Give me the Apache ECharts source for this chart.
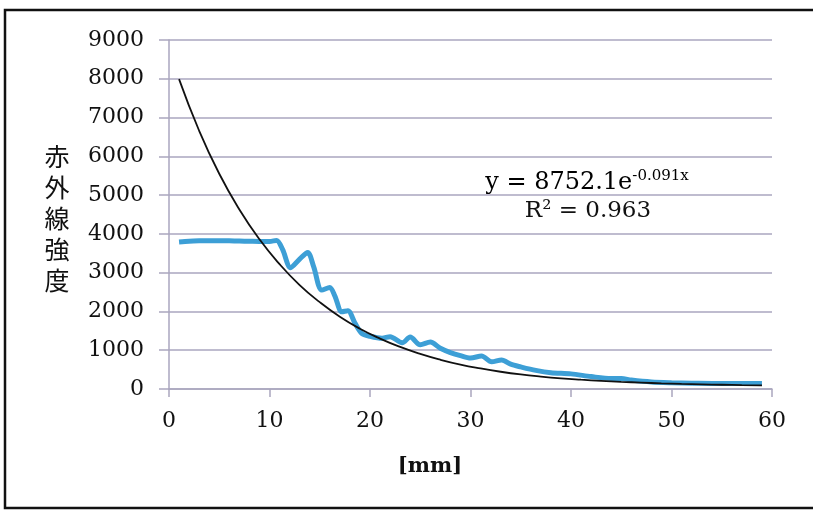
<!DOCTYPE html>
<html><head><meta charset="utf-8">
<script src="https://cdn.jsdelivr.net/npm/echarts@6/dist/echarts.min.js"></script>
<style>html,body{margin:0;padding:0;background:#fff}#c{width:813px;height:511px}</style>
</head><body><div id="c"></div>
<script>
// measured series (position in mm, infrared intensity)
var measX = [1,2,3,4,5,6,7,8,9,10,10.7,11.3,12.1,13,13.8,14.4,15.2,16,16.5,17.2,17.8,18.5,19.2,20,21.2,22,23.2,24,25,26,27,28,29,30,31.1,32.1,33.1,34,35,36.5,38,40,42,44,45,46,48,50,52,55,57,59];
var measY = [3790,3810,3820,3825,3825,3820,3815,3810,3805,3805,3830,3600,3130,3350,3520,3150,2550,2620,2400,1990,2020,1700,1430,1360,1310,1350,1190,1340,1140,1210,1050,940,860,800,850,700,750,640,570,480,420,390,320,270,270,230,180,160,150,140,140,140];
// exponential trendline as drawn
var trendX = [1,3,5,7,9,11,13,15,17,19,21,23,25,27,29,31,33,35,37,39,41,43,45,47,49,51,53,55,57,59];
var trendY = [7990,6660,5550,4630,3860,3220,2680,2240,1865,1555,1300,1085,905,755,630,530,445,375,320,275,240,210,185,165,145,130,120,110,100,95];
var yTicks = [0,1000,2000,3000,4000,5000,6000,7000,8000,9000];
var xTicks = [0,10,20,30,40,50,60];
var yTitle = "赤外線強度";
var xTitle = "[mm]";

function pairs(xs, ys){ return xs.map(function(x,i){ return [x, ys[i]]; }); }

var serif = "DejaVu Serif";
var grid = "#aaa6bf";
var chart = echarts.init(document.getElementById('c'));
chart.setOption({
  animation: false,
  backgroundColor: '#fff',
  grid: {left:169, right:41, top:40, bottom:122},
  xAxis: {
    type:'value', min:xTicks[0], max:xTicks[xTicks.length-1], interval:10,
    axisLine:{show:true, lineStyle:{color:grid, width:1.5}},
    axisTick:{show:true, length:8, lineStyle:{color:grid, width:1.5}},
    splitLine:{show:false},
    axisLabel:{color:'#111', fontFamily:serif, fontSize:22, margin:21, formatter:function(v){return String(v);}}
  },
  yAxis: {
    type:'value', min:yTicks[0], max:yTicks[yTicks.length-1], interval:1000,
    axisLine:{show:true, lineStyle:{color:grid, width:1.5}},
    axisTick:{show:true, length:10, lineStyle:{color:grid, width:1.5}},
    splitLine:{show:true, lineStyle:{color:grid, width:1.5}},
    axisLabel:{color:'#111', fontFamily:serif, fontSize:22, margin:25, formatter:function(v){return String(v);}}
  },
  series: [
    {type:'line', data:pairs(measX, measY), smooth:0.3, showSymbol:false,
     lineStyle:{color:'#3d9fd6', width:5}, z:2},
    {type:'line', data:pairs(trendX, trendY), smooth:true, showSymbol:false,
     lineStyle:{color:'#111', width:1.8}, z:3}
  ],
  graphic: [
    {type:'rect', shape:{x:5, y:10, width:830, height:498}, style:{fill:null, stroke:'#111', lineWidth:2.5}, z:10},
    {type:'text', x:57, y:141, style:{text: yTitle.split('').join('\n'), font:'25px "Noto Sans CJK JP"', lineHeight:31, fill:'#111', textAlign:'center'}},
    {type:'text', x:430, y:467, style:{text:xTitle, font:'bold 21px "DejaVu Serif"', fill:'#111', textAlign:'center', textVerticalAlign:'middle'}},
    {type:'text', x:587, y:183, style:{
      text:'{a|y = 8752.1e}{s|-0.091x}', textAlign:'center', textVerticalAlign:'middle',
      rich:{a:{fontFamily:serif, fontSize:24, color:'#111'},
            s:{fontFamily:serif, fontSize:15, color:'#111', padding:[0,0,13,0]}}}},
    {type:'text', x:588, y:211, style:{text:'R² = 0.963', font:'23px "DejaVu Serif"', fill:'#111', textAlign:'center', textVerticalAlign:'middle'}}
  ]
});
</script></body></html>
